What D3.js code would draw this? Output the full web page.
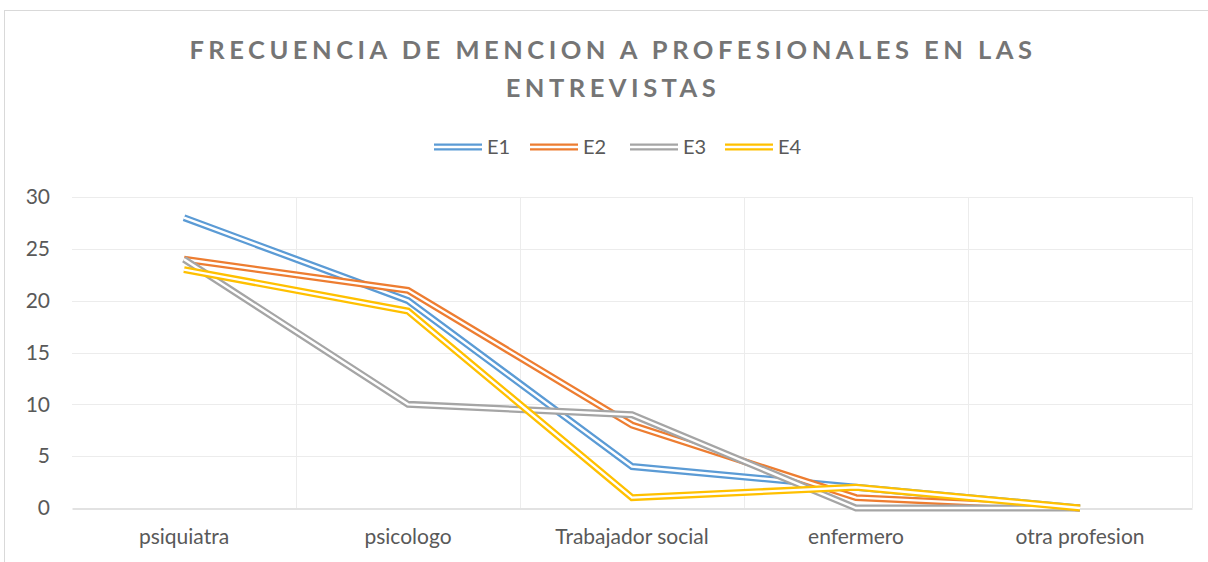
<!DOCTYPE html>
<html>
<head>
<meta charset="utf-8">
<script src="https://cdn.jsdelivr.net/npm/d3@7"></script>
<style>
  body { margin: 0; background: #fff; }
  svg { display: block; font-family: Lato, "Open Sans", sans-serif; }
</style>
</head>
<body>
<div id="container"></div>
<script>
// chart data
const categories = ["psiquiatra", "psicologo", "Trabajador social", "enfermero", "otra profesion"];
const seriesNames = ["E1", "E2", "E3", "E4"];
const e1 = [28, 20, 4, 2, 0];
const e2 = [24, 21, 8, 1, 0];
const e3 = [24, 10, 9, 0, 0];
const e4 = [23, 19, 1, 2, 0];
const yTicks = [0, 5, 10, 15, 20, 25, 30];
const colors = ["#5B9BD5", "#ED7D31", "#A5A5A5", "#FFC000"];

const series = seriesNames.map((name, i) => ({ name, values: [e1, e2, e3, e4][i], color: colors[i] }));

const width = 1208;
const height = 562;
const marginTop = 197;
const marginRight = 16;
const marginBottom = 54;
const marginLeft = 72;

const svg = d3.create("svg")
    .attr("width", width)
    .attr("height", height)
    .attr("viewBox", [0, 0, width, height]);

// chart border (runs off the right and bottom edges)
svg.append("rect")
    .attr("x", 4.5).attr("y", 10.5)
    .attr("width", width + 20).attr("height", height + 20)
    .attr("fill", "#fff")
    .attr("stroke", "#d9d9d9");

const x = d3.scaleBand()
    .domain(categories)
    .range([marginLeft, width - marginRight])
    .padding(0);

const y = d3.scaleLinear()
    .domain([0, 30])
    .range([height - marginBottom, marginTop]);

// horizontal grid
svg.append("g")
  .selectAll("line")
  .data(yTicks.filter(d => d > 0))
  .join("line")
    .attr("x1", marginLeft).attr("x2", width - marginRight)
    .attr("y1", d => Math.round(y(d)) + 0.5).attr("y2", d => Math.round(y(d)) + 0.5)
    .attr("stroke", "#ececec");

// vertical grid between categories
svg.append("g")
  .selectAll("line")
  .data(categories)
  .join("line")
    .attr("x1", d => Math.round(x(d) + x.bandwidth()) + 0.5)
    .attr("x2", d => Math.round(x(d) + x.bandwidth()) + 0.5)
    .attr("y1", y(30)).attr("y2", y(0))
    .attr("stroke", "#ececec");

// y axis labels
svg.append("g")
    .attr("transform", `translate(${marginLeft},0)`)
    .call(d3.axisLeft(y).tickValues(yTicks).tickSize(0).tickPadding(22))
    .call(g => g.select(".domain").remove())
    .call(g => g.selectAll("text")
        .attr("fill", "#595959")
        .attr("font-size", 21)
        .attr("font-family", "Lato, sans-serif"));

// x axis
svg.append("g")
    .attr("transform", `translate(0,${Math.round(y(0)) + 0.5})`)
    .call(d3.axisBottom(x).tickSize(0).tickPadding(21))
    .call(g => g.select(".domain").attr("stroke", "#d9d9d9").attr("stroke-width", 1.5))
    .call(g => g.selectAll("text")
        .attr("fill", "#595959")
        .attr("font-size", 21)
        .attr("font-family", "Lato, sans-serif"));

// lines (double stroke like Excel's compound line)
const line = d3.line()
    .x((d, i) => x(categories[i]) + x.bandwidth() / 2)
    .y(d => y(d));

const lines = svg.append("g").attr("fill", "none");
series.forEach(s => {
  lines.append("path")
      .attr("d", line(s.values))
      .attr("stroke", s.color)
      .attr("stroke-width", 7);
  lines.append("path")
      .attr("d", line(s.values))
      .attr("stroke", "#fff")
      .attr("stroke-width", 2.4);
});

// title
svg.append("text")
    .attr("text-anchor", "middle")
    .attr("fill", "#757575")
    .attr("font-size", 25.5)
    .attr("font-weight", "bold")
    .attr("letter-spacing", 4.5)
  .selectAll("tspan")
  .data(["FRECUENCIA DE MENCION A PROFESIONALES EN LAS", "ENTREVISTAS"])
  .join("tspan")
    .attr("x", 613)
    .attr("y", (d, i) => 59 + i * 38)
    .text(d => d);

// legend
const legendX = [434, 530, 630, 725];
const legend = svg.append("g")
  .selectAll("g")
  .data(series)
  .join("g")
    .attr("transform", (d, i) => `translate(${legendX[i]},147)`);
legend.append("line")
    .attr("x1", 0).attr("x2", 48)
    .attr("stroke", d => d.color).attr("stroke-width", 7);
legend.append("line")
    .attr("x1", 0).attr("x2", 48)
    .attr("stroke", "#fff").attr("stroke-width", 2.4);
legend.append("text")
    .attr("x", 53).attr("y", 7)
    .attr("fill", "#595959")
    .attr("font-size", 20)
    .text(d => d.name);

container.append(svg.node());
</script>
</body>
</html>
